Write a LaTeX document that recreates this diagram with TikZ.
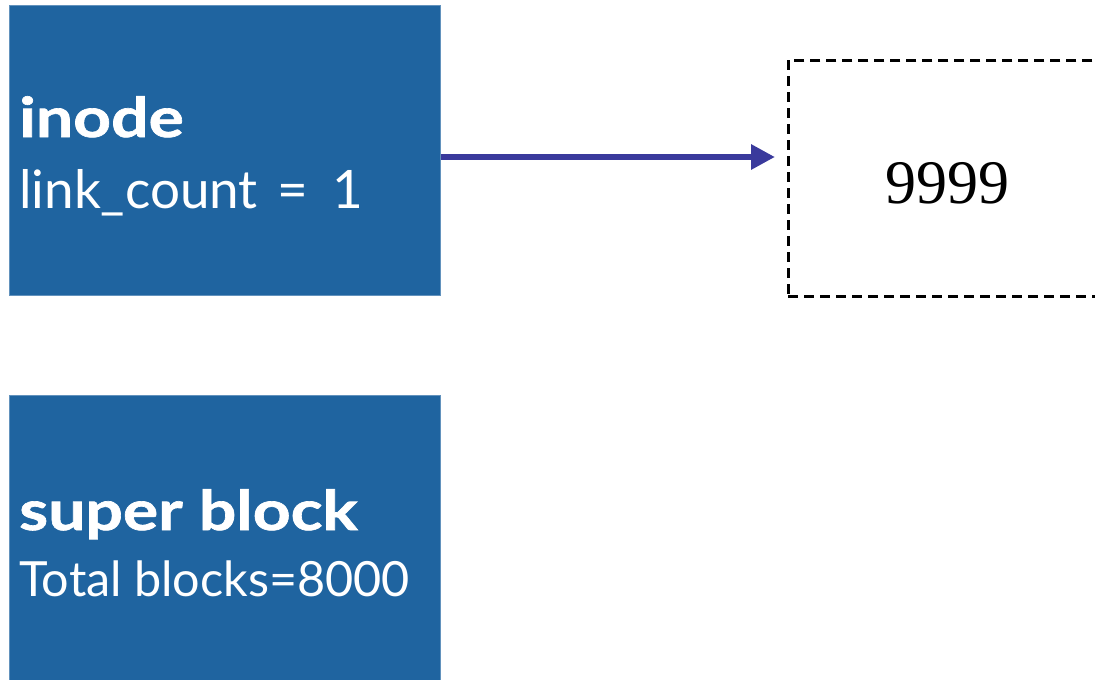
\documentclass[tikz,border=0pt]{standalone}
\usepackage{fontspec}
\setmainfont{Liberation Serif}
\newfontfamily\gillfont{Lato}
\newfontfamily\gillwide[FakeStretch=1.2, FakeBold=1.2]{Lato}
\usetikzlibrary{arrows.meta}
\definecolor{blockblue}{HTML}{1F64A0}
\definecolor{arrowblue}{HTML}{3A3A9C}
\begin{document}
\begin{tikzpicture}[x = 1pt, y = -1pt,
	block/.style = {fill = blockblue, draw = blockblue!70!white, line width = 0.8pt, anchor = north west, inner sep = 0pt},
	label/.style = {anchor = base west, text = white, inner sep = 0pt, font = \gillfont\fontsize{53}{60}\selectfont},
	title/.style = {label, font = \gillwide\bfseries\fontsize{55}{60}\selectfont}]
\useasboundingbox (0,0) rectangle (1095,680);
\clip (0,0) rectangle (1095,680);
\node[block, minimum width = 431pt, minimum height = 290pt] (inode) at (9,5) {};
\node[block, minimum width = 431pt, minimum height = 300pt] (super) at (9,395) {};
\node[title] (inodename) at (19,137) {inode};
\node[label] (linkcount) at (19,208) {link\_count\hspace{20pt}=\hspace{24pt}1};
\node[title] (supername) at (19,530) {super block};
\node[label, font = \gillfont\fontsize{48.5}{54}\selectfont] (total) at (19,596) {Total blocks=8000};
\node[draw, line width = 2.8pt, dash pattern = on 10pt off 6pt, anchor = north west,
	minimum width = 330pt, minimum height = 236pt] (data) at (787,59) {};
\node[anchor = base, inner sep = 0pt, font = \fontsize{62}{70}\selectfont] (datanum) at (947,203) {9999};
\draw[arrowblue, line width = 6.5pt, -{Triangle[length = 24pt, width = 24pt]}, shorten > = 12pt]
	(inode.east |- 0,157) to (data.west |- 0,157);
\end{tikzpicture}
\end{document}
